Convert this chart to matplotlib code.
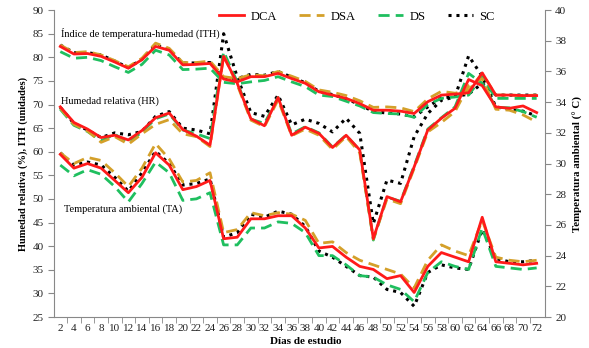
import matplotlib
matplotlib.use("Agg")
import matplotlib.pyplot as plt
from matplotlib.ticker import MultipleLocator, FixedLocator

days = list(range(2, 73, 2))

# Índice de temperatura-humedad (ITH, unidades)
ith_dca = [82.3, 80.7, 80.8, 80.2, 79.0, 77.7, 79.5, 82.3, 81.5, 78.4, 78.5, 78.7,
           75.4, 74.8, 75.9, 75.9, 76.6, 75.5, 74.5, 72.7, 72.0, 71.3, 70.2, 68.8,
           68.8, 68.6, 68.1, 70.6, 72.0, 72.2, 72.5, 76.7, 72.0, 72.0, 71.9, 71.9]
ith_dsa = [82.6, 81.0, 81.2, 80.5, 79.3, 78.0, 79.8, 83.0, 81.9, 78.9, 78.9, 79.2,
           75.9, 75.5, 76.3, 76.1, 77.0, 76.0, 74.9, 73.1, 72.6, 71.9, 70.8, 69.4,
           69.5, 69.3, 68.5, 71.2, 72.8, 72.4, 73.0, 76.6, 72.0, 72.0, 71.9, 72.0]
ith_ds = [81.2, 79.8, 80.0, 79.3, 78.0, 76.8, 78.5, 81.5, 80.5, 77.4, 77.5, 77.7,
          74.7, 74.4, 74.8, 75.1, 75.9, 74.8, 73.8, 72.0, 71.7, 70.7, 69.7, 68.3,
          68.1, 68.0, 67.3, 70.0, 71.3, 71.6, 72.0, 75.9, 71.3, 71.3, 71.3, 71.3]
ith_sc = [82.6, 81.0, 81.0, 80.5, 79.2, 77.8, 79.6, 82.6, 81.6, 78.8, 78.8, 78.9,
          75.6, 75.5, 76.4, 76.2, 77.0, 75.8, 74.6, 72.8, 72.1, 71.2, 70.0, 68.5,
          68.2, 68.0, 67.4, 69.5, 71.4, 71.7, 72.2, 74.5, 72.0, 72.0, 72.0, 72.0]

# Humedad relativa (HR, %)
hr_dca = [69.5, 66.2, 64.8, 63.0, 63.5, 62.5, 64.5, 67.2, 68.2, 64.7, 63.3, 61.4,
          80.2, 74.5, 67.0, 65.5, 71.5, 63.5, 65.2, 63.9, 60.9, 63.5, 60.4, 41.6,
          50.5, 49.4, 56.8, 64.6, 67.1, 69.2, 75.3, 74.0, 69.5, 69.2, 69.7, 68.3]
hr_dsa = [69.2, 65.8, 64.4, 62.0, 63.2, 61.6, 63.8, 65.8, 66.8, 63.8, 63.2, 61.1,
          80.4, 74.2, 66.7, 65.3, 71.0, 63.4, 64.8, 63.5, 60.5, 63.2, 59.8, 41.5,
          50.0, 49.0, 56.5, 64.2, 66.2, 68.5, 74.0, 75.5, 69.0, 68.8, 67.8, 66.3]
hr_ds = [69.0, 65.6, 64.3, 62.3, 63.7, 62.0, 64.2, 67.0, 68.0, 64.6, 63.8, 62.8,
         81.2, 74.8, 66.9, 66.0, 71.5, 63.8, 65.3, 64.0, 61.0, 63.5, 60.3, 41.3,
         50.4, 49.5, 57.0, 64.8, 67.2, 69.5, 76.6, 74.5, 69.4, 69.3, 68.5, 67.3]
hr_sc = [69.4, 66.0, 64.6, 63.0, 64.0, 63.6, 64.3, 67.5, 68.5, 65.0, 64.6, 63.8,
         85.0, 75.8, 68.3, 67.5, 72.0, 65.7, 66.9, 66.0, 64.2, 67.1, 63.9, 44.8,
         54.0, 53.3, 63.2, 68.1, 70.9, 71.6, 80.3, 76.0, 69.5, 69.0, 68.6, 67.6]

# Temperatura ambiental (TA, °C)
ta_dca = [30.6, 29.7, 30.0, 29.7, 28.9, 28.1, 29.1, 30.7, 29.9, 28.3, 28.5, 28.9,
          25.1, 25.2, 26.4, 26.4, 26.6, 26.6, 25.8, 24.5, 24.6, 23.9, 23.3, 23.1,
          22.5, 22.7, 21.6, 23.3, 24.2, 23.9, 23.6, 26.5, 23.6, 23.5, 23.4, 23.5]
ta_dsa = [30.7, 30.0, 30.4, 30.2, 29.4, 28.5, 29.7, 31.3, 30.3, 28.8, 28.9, 29.4,
          25.5, 25.7, 26.8, 26.6, 26.8, 26.7, 26.3, 24.8, 24.9, 24.2, 23.7, 23.4,
          23.1, 22.8, 21.9, 23.7, 24.7, 24.3, 24.0, 26.3, 23.9, 23.7, 23.6, 23.7]
ta_ds = [29.9, 29.2, 29.6, 29.3, 28.5, 27.5, 28.7, 30.1, 29.4, 27.6, 27.7, 28.1,
         24.7, 24.7, 25.8, 25.8, 26.2, 26.1, 25.5, 24.0, 24.0, 23.4, 22.7, 22.6,
         22.1, 21.8, 21.0, 22.9, 23.6, 23.3, 23.1, 25.8, 23.3, 23.2, 23.1, 23.2]
ta_sc = [30.7, 29.9, 30.1, 29.9, 29.1, 28.2, 29.4, 30.8, 30.0, 28.6, 28.7, 29.0,
         25.2, 25.5, 26.7, 26.5, 26.9, 26.7, 25.9, 24.3, 23.9, 23.3, 22.7, 22.6,
         21.8, 21.6, 20.7, 22.9, 23.4, 23.2, 23.1, 25.7, 23.8, 23.6, 23.6, 23.7]

names = ["DCA", "DSA", "DS", "SC"]
colors = ["#FF1A1A", "#D4A02A", "#1FBF5F", "#000000"]
styles = [dict(ls="-", lw=2.0),
          dict(ls=(0, (4, 2.2)), lw=2.0),
          dict(ls=(0, (4, 2.2)), lw=2.0),
          dict(ls=(0, (1, 1.6)), lw=2.2)]

plt.rcParams["font.family"] = ["Liberation Serif", "DejaVu Serif"]

fig = plt.figure(figsize=(5.89, 3.48), dpi=100)
ax = fig.add_axes([0.092, 0.089, 0.833, 0.882])
ax2 = ax.twinx()

ith = [ith_dca, ith_dsa, ith_ds, ith_sc]
hr = [hr_dca, hr_dsa, hr_ds, hr_sc]
ta = [ta_dca, ta_dsa, ta_ds, ta_sc]

for i in [3, 2, 1, 0]:
    z = 3 + (3 - i) * 0.1
    ax.plot(days, ith[i], color=colors[i], **styles[i], label=names[i], zorder=z)
    ax.plot(days, hr[i], color=colors[i], **styles[i], zorder=z)
    ax2.plot(days, ta[i], color=colors[i], **styles[i], zorder=z)

ax.set_xlim(1.1, 73.2)
ax.set_ylim(25, 90)
ax2.set_ylim(20, 40)
ax.set_xticks(days)
ax.set_xticklabels([str(d) for d in days])
ax.xaxis.set_minor_locator(FixedLocator([d + 1 for d in days[:-1]]))
ax.yaxis.set_major_locator(MultipleLocator(5))
ax2.yaxis.set_major_locator(MultipleLocator(2))

for a in (ax, ax2):
    for s in a.spines.values():
        s.set_color("#888888")
        s.set_linewidth(0.8)
    a.spines["top"].set_visible(False)
ax.spines["right"].set_visible(False)
ax2.spines["left"].set_visible(False)
ax2.spines["bottom"].set_visible(False)

ax.tick_params(axis="x", which="major", length=0, labelsize=8, pad=5, colors="#222222")
ax.tick_params(axis="x", which="minor", length=4, color="#888888", direction="out")
ax.tick_params(axis="y", length=4, color="#888888", labelsize=8, labelcolor="#222222")
ax2.tick_params(axis="y", length=4, color="#888888", labelsize=8, labelcolor="#222222")

ax.set_xlabel("Días de estudio", fontsize=8, fontweight="bold", labelpad=0)
ax.xaxis.set_label_coords(0.513, -0.065)
ax.set_ylabel("Humedad relativa (%), ITH (unidades)", fontsize=7.5, fontweight="bold", labelpad=3)
ax2.set_ylabel("Temperatura ambiental (° C)", fontsize=7.8, fontweight="bold", labelpad=5)

ax.text(2.15, 84.3, "Índice de temperatura-humedad (ITH)", fontsize=7.5, ha="left", va="baseline")
ax.text(2.1, 70.1, "Humedad relativa (HR)", fontsize=7.5, ha="left", va="baseline")
ax.text(2.6, 47.3, "Temperatura ambiental (TA)", fontsize=7.5, ha="left", va="baseline")

handles, labels = ax.get_legend_handles_labels()
hmap = dict(zip(labels, handles))
ax.legend([hmap[n] for n in names], names, loc="center", bbox_to_anchor=(0.617, 0.978),
          ncol=4, frameon=False, fontsize=9, handlelength=2.0, columnspacing=1.75,
          handletextpad=0.55, borderpad=0.2)

fig.savefig("out.png", dpi=100)
